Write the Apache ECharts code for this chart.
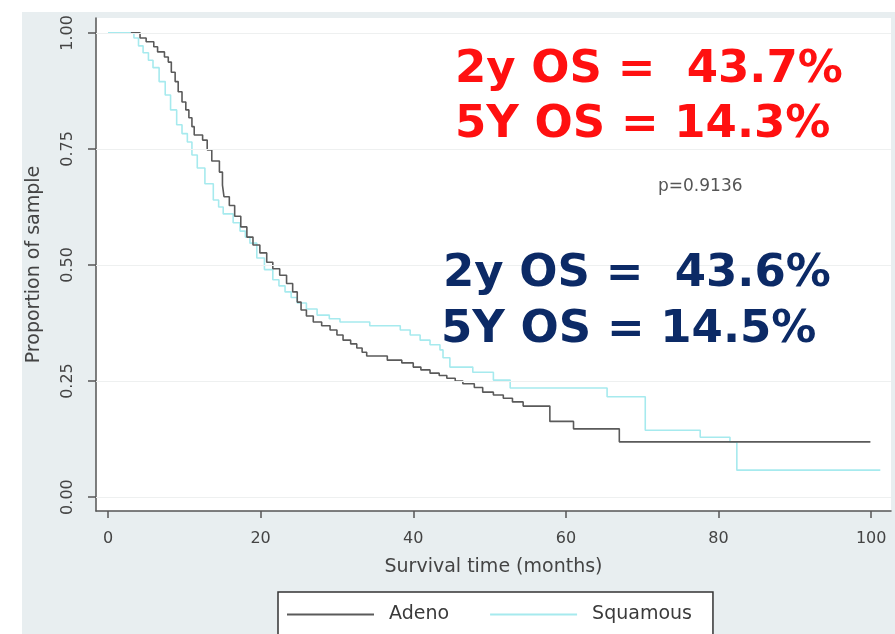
<!DOCTYPE html>
<html>
<head>
<meta charset="utf-8">
<script src="https://cdn.jsdelivr.net/npm/echarts@6/dist/echarts.min.js"></script>
<style>
  html, body { margin: 0; padding: 0; background: #ffffff; }
  #chart { width: 895px; height: 634px; }
</style>
</head>
<body>
<div id="chart"></div>
<script>
// Kaplan-Meier survival steps: [month, proportion surviving]
const adenoSteps = [
  [3.0, 1.000], [4.2, 0.989], [5.0, 0.981], [6.0, 0.970], [6.5, 0.959], [7.4, 0.948],
  [7.9, 0.937], [8.3, 0.915], [8.8, 0.895], [9.2, 0.873], [9.7, 0.851], [10.2, 0.834],
  [10.6, 0.817], [11.0, 0.798], [11.3, 0.780], [12.4, 0.769], [13.0, 0.748], [13.6, 0.724],
  [14.6, 0.700], [15.0, 0.672], [15.2, 0.647], [15.9, 0.628], [16.6, 0.605], [17.4, 0.582],
  [18.2, 0.560], [19.0, 0.543], [19.9, 0.526], [20.8, 0.506], [21.6, 0.492], [22.5, 0.478],
  [23.4, 0.460], [24.2, 0.442], [24.8, 0.420], [25.3, 0.403], [26.0, 0.390], [26.9, 0.377],
  [28.0, 0.369], [29.1, 0.360], [30.0, 0.349], [30.8, 0.338], [31.8, 0.330], [32.6, 0.321],
  [33.3, 0.312], [33.9, 0.304], [36.6, 0.295], [38.5, 0.289], [40.0, 0.280], [41.0, 0.274],
  [42.2, 0.267], [43.4, 0.262], [44.4, 0.256], [45.5, 0.250], [46.5, 0.244], [48.0, 0.236],
  [49.1, 0.226], [50.5, 0.220], [51.8, 0.213], [53.0, 0.205], [54.4, 0.196], [57.9, 0.163],
  [61.0, 0.147], [67.0, 0.119], [99.9, 0.119]
];

const squamousSteps = [
  [0.0, 1.000], [3.4, 0.989], [4.0, 0.972], [4.6, 0.957], [5.3, 0.941], [5.9, 0.925],
  [6.7, 0.895], [7.5, 0.866], [8.2, 0.834], [9.0, 0.802], [9.7, 0.783], [10.4, 0.765],
  [11.0, 0.737], [11.7, 0.709], [12.7, 0.675], [13.8, 0.640], [14.5, 0.625], [15.1, 0.610],
  [16.4, 0.591], [17.3, 0.573], [18.0, 0.560], [18.6, 0.547], [19.5, 0.515], [20.5, 0.490],
  [21.6, 0.468], [22.4, 0.455], [23.2, 0.442], [24.0, 0.430], [24.8, 0.418], [26.0, 0.405],
  [27.4, 0.392], [29.0, 0.384], [30.4, 0.377], [34.3, 0.369], [38.3, 0.360], [39.6, 0.349],
  [40.9, 0.338], [42.2, 0.328], [43.5, 0.317], [43.9, 0.300], [44.8, 0.280], [47.8, 0.269],
  [50.5, 0.252], [52.7, 0.235], [65.4, 0.216], [70.4, 0.144], [77.6, 0.129], [81.5, 0.119],
  [82.4, 0.058], [101.2, 0.058]
];

const seriesNames = ['Adeno', 'Squamous'];
const xTicks = [0, 20, 40, 60, 80, 100];
const yTicks = [0, 0.25, 0.5, 0.75, 1];
const pValueText = 'p=0.9136';
const adenoSummary = ['2y OS =  43.7%', '5Y OS = 14.3%'];
const squamousSummary = ['2y OS =  43.6%', '5Y OS = 14.5%'];

const GRID = { left: 96, top: 18, right: 4, bottom: 123 };
const axisFont = 'DejaVu Sans, sans-serif';
const bigFont = 'DejaVu Sans, sans-serif';
const ADENO_COLOR = '#5a5a5a';
const SQUAMOUS_COLOR = '#a6eaee';

const chart = echarts.init(document.getElementById('chart'), null, { renderer: 'canvas' });

chart.setOption({
  backgroundColor: '#ffffff',
  animation: false,
  graphic: [
    { type: 'rect', z: -100, silent: true,
      shape: { x: 22, y: 12, width: 873, height: 622 },
      style: { fill: '#e8eef0' } },
    { type: 'rect', z: -99, silent: true,
      shape: { x: GRID.left, y: GRID.top, width: 895 - GRID.left - GRID.right, height: 634 - GRID.top - GRID.bottom },
      style: { fill: '#ffffff' } },
    { type: 'text', left: 455, top: 48, z: 50,
      style: { text: adenoSummary[0], fill: '#ff1010', font: 'bold 45px ' + bigFont } },
    { type: 'text', left: 455, top: 103, z: 50,
      style: { text: adenoSummary[1], fill: '#ff1010', font: 'bold 45px ' + bigFont } },
    { type: 'text', left: 443, top: 252, z: 50,
      style: { text: squamousSummary[0], fill: '#0c2a66', font: 'bold 45px ' + bigFont } },
    { type: 'text', left: 441, top: 308, z: 50,
      style: { text: squamousSummary[1], fill: '#0c2a66', font: 'bold 45px ' + bigFont } },
    { type: 'text', left: 658, top: 178, z: 50,
      style: { text: pValueText, fill: '#555555', font: '17px ' + axisFont } }
  ],
  grid: { left: GRID.left, top: GRID.top, right: GRID.right, bottom: GRID.bottom, containLabel: false },
  legend: {
    data: seriesNames,
    left: 278,
    top: 592,
    orient: 'horizontal',
    icon: 'rect',
    backgroundColor: '#ffffff',
    borderColor: '#333333',
    borderWidth: 1.5,
    borderRadius: 0,
    padding: [13, 21, 20, 9],
    itemWidth: 87,
    itemHeight: 2,
    itemGap: 41,
    textStyle: { fontFamily: axisFont, fontSize: 19, color: '#3a3a3a', padding: [0, 0, 0, 10] }
  },
  xAxis: {
    type: 'value',
    min: -1.57,
    max: 102.6,
    name: 'Survival time (months)',
    nameLocation: 'middle',
    nameGap: 47,
    nameTextStyle: { fontFamily: axisFont, fontSize: 19, color: '#444444' },
    axisLine: { show: true, onZero: false, lineStyle: { color: '#555555', width: 1.5 } },
    axisTick: { show: true, customValues: xTicks, length: 7, lineStyle: { color: '#555555', width: 1.5 } },
    axisLabel: { customValues: xTicks, margin: 20, fontFamily: axisFont, fontSize: 16, color: '#444444' },
    splitLine: { show: false }
  },
  yAxis: {
    type: 'value',
    min: -0.030,
    max: 1.032,
    name: 'Proportion of sample',
    nameLocation: 'middle',
    nameGap: 52,
    nameRotate: 90,
    nameTextStyle: { fontFamily: axisFont, fontSize: 19, color: '#444444' },
    axisLine: { show: true, onZero: false, lineStyle: { color: '#555555', width: 1.5 } },
    axisTick: { show: true, customValues: yTicks, length: 8, lineStyle: { color: '#555555', width: 1.5 } },
    axisLabel: {
      customValues: yTicks, rotate: 90, margin: 20,
      fontFamily: axisFont, fontSize: 16, color: '#444444',
      formatter: v => v.toFixed(2)
    },
    splitLine: { show: false }
  },
  series: [
    {
      name: seriesNames[0],
      type: 'line',
      step: 'end',
      data: adenoSteps,
      symbol: 'none',
      z: 3,
      lineStyle: { color: ADENO_COLOR, width: 1.6 },
      itemStyle: { color: ADENO_COLOR },
      markLine: {
        silent: true,
        symbol: 'none',
        label: { show: false },
        lineStyle: { color: '#eef0f0', type: 'solid', width: 1.2 },
        data: yTicks.map(v => ({ yAxis: v }))
      }
    },
    {
      name: seriesNames[1],
      type: 'line',
      step: 'end',
      data: squamousSteps,
      symbol: 'none',
      z: 2,
      lineStyle: { color: SQUAMOUS_COLOR, width: 1.6 },
      itemStyle: { color: SQUAMOUS_COLOR }
    }
  ]
});
</script>
</body>
</html>
